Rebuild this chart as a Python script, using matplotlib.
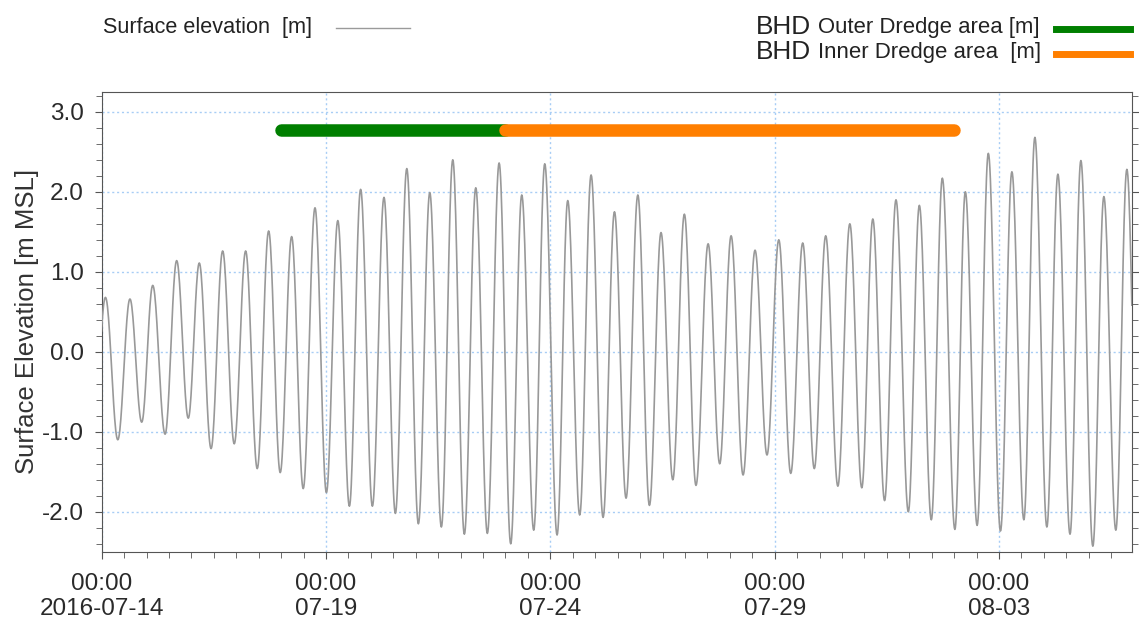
import numpy as np
import matplotlib
matplotlib.use("Agg")
import matplotlib.pyplot as plt
import matplotlib.dates as mdates
from matplotlib.lines import Line2D
import datetime

plt.rcParams["font.family"] = ["Liberation Sans", "DejaVu Sans"]

start = datetime.datetime(2016, 7, 14)
end_hours = 551.0

# tide extremes (hours after 2016-07-14 00:00, m MSL)
high_hours = [2.0, 15.1, 27.3, 40.1, 52.2, 64.7, 77.0, 89.3, 101.6, 114.1, 126.3, 138.5,
              151.0, 163.2, 175.5, 187.8, 200.1, 212.6, 224.7, 237.0, 249.3, 261.8, 274.3,
              286.8, 299.2, 311.7, 324.4, 336.7, 349.5, 362.2, 375.0, 387.3, 400.2, 412.5,
              424.9, 437.4, 449.7, 462.0, 474.3, 486.9, 499.2, 511.5, 523.8, 536.1, 548.4]
high_vals = [0.68, 0.66, 0.83, 1.14, 1.11, 1.26, 1.26, 1.51, 1.44, 1.80, 1.64, 2.03,
             1.93, 2.29, 1.99, 2.40, 2.05, 2.36, 1.96, 2.35, 1.89, 2.21, 1.75,
             1.96, 1.49, 1.72, 1.35, 1.45, 1.27, 1.40, 1.36, 1.45, 1.60, 1.66,
             1.90, 1.83, 2.17, 2.00, 2.48, 2.25, 2.68, 2.22, 2.39, 1.94, 2.28]
low_hours = [-4.4, 8.6, 21.4, 33.9, 46.3, 58.5, 70.9, 83.2, 95.5, 107.8, 120.2, 132.5,
             144.8, 157.1, 169.4, 181.7, 194.0, 206.3, 218.8, 231.1, 243.6, 255.7, 268.2,
             280.5, 293.0, 305.5, 317.9, 330.6, 343.1, 355.9, 368.6, 381.2, 393.8, 406.6,
             418.8, 431.5, 443.8, 456.4, 468.3, 480.8, 493.3, 505.6, 518.0, 530.2, 542.5, 554.8]
low_vals = [-1.00, -1.10, -0.88, -1.03, -0.83, -1.21, -1.15, -1.46, -1.51, -1.71, -1.76, -1.93,
            -1.93, -2.02, -2.15, -2.19, -2.28, -2.27, -2.40, -2.23, -2.29, -2.04, -2.07,
            -1.83, -1.92, -1.60, -1.67, -1.40, -1.54, -1.29, -1.52, -1.46, -1.68, -1.70,
            -1.86, -2.00, -2.10, -2.22, -2.17, -2.24, -2.10, -2.19, -2.28, -2.43, -2.23, -2.30]

# dredging periods
outer_period = [datetime.datetime(2016, 7, 18), datetime.datetime(2016, 7, 23)]
inner_period = [datetime.datetime(2016, 7, 23), datetime.datetime(2016, 8, 2)]
outer_level = 2.77
inner_level = 2.77

major_days = [datetime.datetime(2016, 7, 14), datetime.datetime(2016, 7, 19),
              datetime.datetime(2016, 7, 24), datetime.datetime(2016, 7, 29),
              datetime.datetime(2016, 8, 3)]


def tide_curve(hh, hv, lh, lv, n=24):
    # join successive extremes with half cosine segments
    ext = sorted(zip(hh + lh, hv + lv))
    t_all, v_all = [], []
    for (t0, v0), (t1, v1) in zip(ext[:-1], ext[1:]):
        s = np.linspace(0, 1, n, endpoint=False)
        t_all.append(t0 + (t1 - t0) * s)
        v_all.append(v0 + (v1 - v0) * (1 - np.cos(np.pi * s)) / 2)
    t_all.append([ext[-1][0]])
    v_all.append([ext[-1][1]])
    return np.concatenate(t_all), np.concatenate(v_all)


t, v = tide_curve(high_hours, high_vals, low_hours, low_vals)
times = mdates.date2num(start) + t / 24.0

fig = plt.figure(figsize=(11.39, 6.2), dpi=100)
ax = fig.add_axes([0.0893, 0.110, 0.9043, 0.742])

ax.plot(times, v, color="#999999", lw=1.2, zorder=3)
ax.plot(outer_period, [outer_level, outer_level], color="#007f00", lw=9, solid_capstyle="round", zorder=4)
ax.plot(inner_period, [inner_level, inner_level], color="#ff7f00", lw=9, solid_capstyle="round", zorder=5)

ax.set_xlim(mdates.date2num(start), mdates.date2num(start) + end_hours / 24.0)
ax.set_ylim(-2.5, 3.25)

ax.xaxis.set_major_locator(matplotlib.ticker.FixedLocator(mdates.date2num(major_days)))
ax.xaxis.set_minor_locator(mdates.HourLocator(byhour=[0, 12]))


def fmt_date(x, pos):
    d = mdates.num2date(x)
    if pos == 0:
        return d.strftime("%H:%M\n%Y-%m-%d")
    return d.strftime("%H:%M\n%m-%d")


ax.xaxis.set_major_formatter(matplotlib.ticker.FuncFormatter(fmt_date))
ax.yaxis.set_major_locator(matplotlib.ticker.MultipleLocator(1.0))
ax.yaxis.set_minor_locator(matplotlib.ticker.MultipleLocator(0.2))
ax.yaxis.set_major_formatter(matplotlib.ticker.FormatStrFormatter("%.1f"))

ax.tick_params(axis="both", which="major", direction="out", length=5, color="#555555",
               labelsize=17.5, labelcolor="#2a2a2a")
ax.tick_params(axis="both", which="minor", direction="out", length=4, color="#555555")
ax.tick_params(axis="y", which="both", right=True)
ax.tick_params(axis="y", which="major", pad=8)
ax.tick_params(axis="x", which="major", pad=10)

ax.grid(True, which="major", color="#a8cdf5", linestyle=(0, (1.5, 2)), lw=1.0, zorder=1)
for sp in ax.spines.values():
    sp.set_color("#555555")

ax.set_ylabel("Surface Elevation [m MSL]", fontsize=18.5, color="#333333", labelpad=2)

# legends drawn at the top
fig.text(0.0905, 0.955, "Surface elevation  [m]", fontsize=15.6, color="#222222", va="center")
fig.add_artist(Line2D([0.295, 0.36], [0.955, 0.955], color="#9a9a9a", lw=1.0))

fig.text(0.664, 0.956, "BHD", fontsize=18.9, color="#222222", va="center")
fig.text(0.718, 0.956, "Outer Dredge area [m]", fontsize=15.9, color="#222222", va="center")
fig.text(0.664, 0.916, "BHD", fontsize=18.9, color="#222222", va="center")
fig.text(0.718, 0.916, "Inner Dredge area  [m]", fontsize=15.9, color="#222222", va="center")
fig.add_artist(Line2D([0.927, 0.992], [0.953, 0.953], color="#007f00", lw=5))
fig.add_artist(Line2D([0.927, 0.992], [0.913, 0.913], color="#ff7f00", lw=5))

fig.savefig("out.png", dpi=100)
